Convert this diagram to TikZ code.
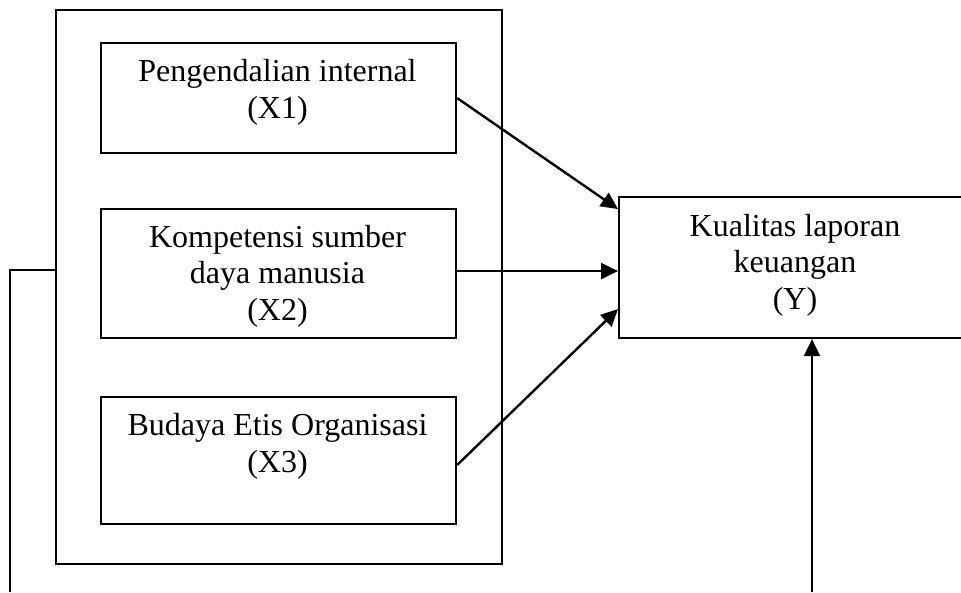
\documentclass[tikz,border=0pt]{standalone}
\usepackage{fontspec}
\setmainfont{Liberation Serif}
\usetikzlibrary{arrows.meta}
\begin{document}
\begin{tikzpicture}[x=1pt,y=-1pt,
  box/.style={draw,rectangle,inner sep=0pt,anchor=north west,line width=2.1pt},
  lbl/.style={anchor=base,align=center,inner sep=0pt,font=\fontsize{32}{36.5}\selectfont},
  conn/.style={line width=2.4pt,-{Triangle[length=17pt,width=16pt]}}]
\useasboundingbox (0,0) rectangle (961,592);
\fill[white] (0,0) rectangle (961,592);
% outer frame
\node[box,line width=1.8pt,minimum width=446pt,minimum height=554pt] (outer) at (55,9) {};
% inner boxes
\node[box,minimum width=355pt,minimum height=110pt] (x1) at (100,42) {};
\node[box,minimum width=355pt,minimum height=129pt] (x2) at (100,208) {};
\node[box,minimum width=355pt,minimum height=127pt] (x3) at (100,396) {};
\node[box,minimum width=354pt,minimum height=141pt] (y) at (618,196) {};
% texts (base anchor = baseline of last line)
\node[lbl] (t1) at (277.5,118) {Pengendalian internal\\(X1)};
\node[lbl] (t2) at (277.5,320) {Kompetensi sumber\\daya manusia\\(X2)};
\node[lbl] (t3) at (277.5,472) {Budaya Etis Organisasi\\(X3)};
\node[lbl] (ty) at (795,309) {Kualitas laporan\\keuangan\\(Y)};
% connectors
\draw[conn] (x1.east) -- ([yshift=58.5pt]y.west);
\draw[conn] ([yshift=2.5pt]x2.east) -- ([yshift=-3.5pt]y.west);
\draw[conn] ([yshift=-4.5pt]x3.east) -- ([yshift=-41.5pt]y.west);
\coordinate (bot) at (812,592);
\draw[conn] (bot) -- (bot |- y.south);
\coordinate (lb) at (10,592);
\draw[line width=1.8pt] ([yshift=17pt]outer.west) -| (lb);
\end{tikzpicture}
\end{document}
